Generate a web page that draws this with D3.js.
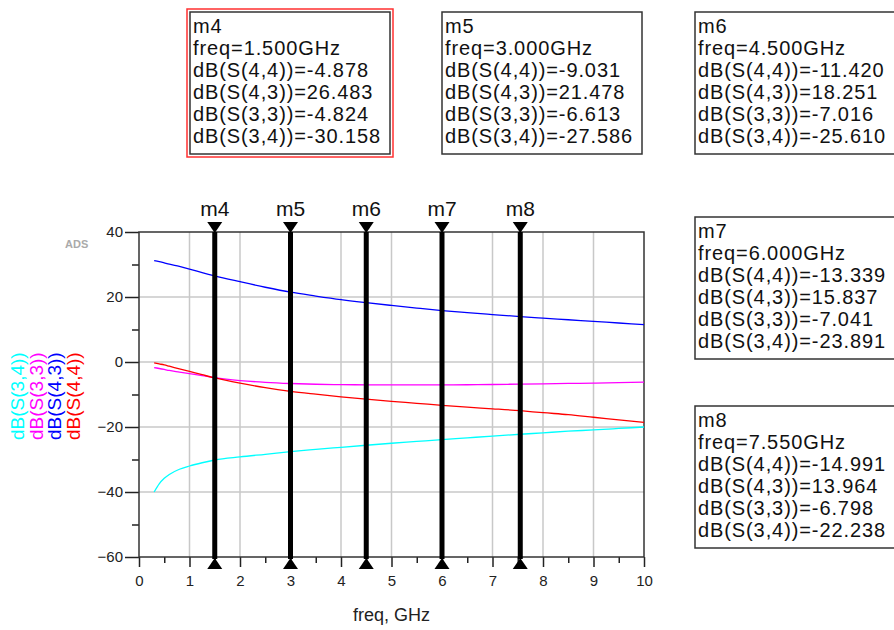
<!DOCTYPE html>
<html>
<head>
<meta charset="utf-8">
<script src="https://cdn.jsdelivr.net/npm/d3@7"></script>
<style>
body { margin: 0; background: #fff; }
svg { display: block; font-family: "Liberation Sans", Arial, sans-serif; }
</style>
</head>
<body>
<div id="chart"></div>
<script>
// sweep data (dB)
var freq = [0.3, 0.4, 0.5, 0.6, 0.8, 1, 1.25, 1.5, 2, 2.5, 3, 3.5, 4, 4.5, 5, 5.5, 6, 6.5, 7, 7.55, 8, 8.5, 9, 9.5, 10];
var s44 = [-0.3, -0.6, -0.9, -1.3, -2.1, -2.9, -3.9, -4.878, -6.5, -7.9, -9.031, -9.9, -10.7, -11.42, -12.1, -12.7, -13.339, -13.9, -14.4, -14.991, -15.6, -16.2, -17.0, -17.8, -18.6];
var s43 = [31.2, 30.9, 30.5, 30.1, 29.4, 28.6, 27.5, 26.483, 24.7, 23.0, 21.478, 20.3, 19.2, 18.251, 17.4, 16.6, 15.837, 15.2, 14.6, 13.964, 13.5, 13.0, 12.5, 12.0, 11.5];
var s33 = [-1.7, -2.0, -2.3, -2.6, -3.1, -3.6, -4.2, -4.824, -5.7, -6.25, -6.613, -6.85, -6.97, -7.016, -7.04, -7.05, -7.041, -7.0, -6.92, -6.798, -6.7, -6.6, -6.5, -6.35, -6.2];
var s34 = [-40, -37.5, -35.8, -34.6, -33.0, -32.0, -31.0, -30.158, -29.2, -28.4, -27.586, -26.9, -26.25, -25.61, -25.0, -24.45, -23.891, -23.35, -22.8, -22.238, -21.8, -21.3, -20.9, -20.45, -20.0];

// markers
var markerNames = ["m4", "m5", "m6", "m7", "m8"];
var markerFreq = [1.5, 3.0, 4.5, 6.0, 7.55];
var mk_s44 = [-4.878, -9.031, -11.420, -13.339, -14.991];
var mk_s43 = [26.483, 21.478, 18.251, 15.837, 13.964];
var mk_s33 = [-4.824, -6.613, -7.016, -7.041, -6.798];
var mk_s34 = [-30.158, -27.586, -25.610, -23.891, -22.238];

// axes
var xTicks = [0, 1, 2, 3, 4, 5, 6, 7, 8, 9, 10];
var xMinor = [0.5, 1.5, 2.5, 3.5, 4.5, 5.5, 6.5, 7.5, 8.5, 9.5];
var yTicks = [40, 20, 0, -20, -40, -60];
var yMinor = [30, 10, -10, -30, -50];

var seriesNames = ["dB(S(3,4))", "dB(S(3,3))", "dB(S(4,3))", "dB(S(4,4))"];
var seriesColors = ["#00ffff", "#ff00ff", "#0000ff", "#ff0000"];
var seriesData = [s34, s33, s43, s44];

var W = 894, H = 630;
var margin = {top: 232, left: 139};
var width = 505, height = 325;

var svg = d3.select("#chart").append("svg")
    .attr("width", W)
    .attr("height", H);

var g = svg.append("g")
    .attr("transform", "translate(" + margin.left + "," + margin.top + ")");

var x = d3.scaleLinear().domain([0, 10]).range([0, width]);
var y = d3.scaleLinear().domain([-60, 40]).range([height, 0]);

// grid
g.append("g").selectAll("line")
    .data(xTicks.slice(1, -1))
    .enter().append("line")
    .attr("x1", d => x(d)).attr("x2", d => x(d))
    .attr("y1", 0).attr("y2", height)
    .attr("stroke", "#c8c8c8").attr("stroke-width", 1.5);
g.append("g").selectAll("line")
    .data(yTicks.slice(1, -1))
    .enter().append("line")
    .attr("x1", 0).attr("x2", width)
    .attr("y1", d => y(d)).attr("y2", d => y(d))
    .attr("stroke", "#c8c8c8").attr("stroke-width", 1.5);

function styleAxis(sel, size) {
    sel.attr("font-family", null).attr("font-size", size);
    sel.select(".domain").remove();
    sel.selectAll("line").attr("stroke", "#222").attr("stroke-width", 1.5);
    sel.selectAll("text").attr("fill", "#222");
}

// x axis
var xAx = g.append("g").attr("transform", "translate(0," + height + ")")
    .call(d3.axisBottom(x).tickValues(xTicks).tickSize(10).tickPadding(8).tickFormat(d3.format("d")));
styleAxis(xAx, 15);
var xAxMinor = g.append("g").attr("transform", "translate(0," + height + ")")
    .call(d3.axisBottom(x).tickValues(xMinor).tickSize(6).tickFormat(""));
styleAxis(xAxMinor, 15);

// y axis
var yAx = g.append("g")
    .call(d3.axisLeft(y).tickValues(yTicks).tickSize(14).tickPadding(2).tickFormat(d3.format("d")));
styleAxis(yAx, 15);
var yAxMinor = g.append("g")
    .call(d3.axisLeft(y).tickValues(yMinor).tickSize(7).tickFormat(""));
styleAxis(yAxMinor, 15);

// frame
g.append("rect")
    .attr("x", 0).attr("y", 0)
    .attr("width", width).attr("height", height)
    .attr("fill", "none").attr("stroke", "#333").attr("stroke-width", 1.5);

// curves
var line = d3.line()
    .x((d, i) => x(freq[i]))
    .y(d => y(d))
    .curve(d3.curveMonotoneX);

g.append("g").selectAll("path")
    .data(seriesData)
    .enter().append("path")
    .attr("d", d => line(d))
    .attr("fill", "none")
    .attr("stroke", (d, i) => seriesColors[i])
    .attr("stroke-width", 1.3);

// marker lines
var mk = g.append("g").selectAll("g")
    .data(markerFreq)
    .enter().append("g")
    .attr("transform", d => "translate(" + x(d) + ",0)");
mk.append("line")
    .attr("x1", 0).attr("x2", 0)
    .attr("y1", 0).attr("y2", height + 2)
    .attr("stroke", "#000").attr("stroke-width", 5);
mk.append("path")
    .attr("d", "M-7.5,-10L7.5,-10L0,1Z")
    .attr("fill", "#000");
mk.append("path")
    .attr("d", "M0," + (height + 1) + "L7.5," + (height + 12) + "L-7.5," + (height + 12) + "Z")
    .attr("fill", "#000");
mk.append("text")
    .attr("x", 0).attr("y", -16)
    .attr("text-anchor", "middle")
    .attr("font-size", 21)
    .attr("fill", "#111")
    .text((d, i) => markerNames[i]);

// readout boxes
var boxPos = [[190, 12], [442, 12], [695, 12], [695, 217], [695, 406]];
var boxW = 200, boxH = 142;

// m4 is the selected marker: extra red outline
svg.append("rect")
    .attr("x", boxPos[0][0] - 3).attr("y", boxPos[0][1] - 3)
    .attr("width", boxW + 6).attr("height", boxH + 6)
    .attr("fill", "none").attr("stroke", "#ff3030").attr("stroke-width", 1.5);

markerNames.forEach(function(name, i) {
    var bx = boxPos[i][0], by = boxPos[i][1];
    var lines = [
        name,
        "freq=" + markerFreq[i].toFixed(3) + "GHz",
        "dB(S(4,4))=" + mk_s44[i].toFixed(3),
        "dB(S(4,3))=" + mk_s43[i].toFixed(3),
        "dB(S(3,3))=" + mk_s33[i].toFixed(3),
        "dB(S(3,4))=" + mk_s34[i].toFixed(3)
    ];
    var b = svg.append("g");
    b.append("rect")
        .attr("x", bx).attr("y", by)
        .attr("width", boxW).attr("height", boxH)
        .attr("fill", "#fff").attr("stroke", "#333").attr("stroke-width", 1.5);
    b.selectAll("text")
        .data(lines)
        .enter().append("text")
        .attr("x", bx + 3)
        .attr("y", (d, j) => by + 21 + j * 22)
        .attr("font-size", 20)
        .attr("letter-spacing", 0.9)
        .attr("fill", "#111")
        .text(d => d);
});

// y axis legend labels (rotated)
var legX = [24, 42.5, 61, 79.5];
svg.append("g").selectAll("text")
    .data(seriesNames)
    .enter().append("text")
    .attr("transform", (d, i) => "translate(" + legX[i] + ",440) rotate(-90)")
    .attr("font-size", 19)
    .attr("fill", (d, i) => seriesColors[i])
    .text(d => d);

// ADS watermark
svg.append("text")
    .attr("x", 65).attr("y", 248)
    .attr("font-size", 11).attr("font-weight", "bold")
    .attr("fill", "#aaa")
    .text("ADS");

// x label
svg.append("text")
    .attr("x", margin.left + width / 2).attr("y", 621)
    .attr("text-anchor", "middle")
    .attr("font-size", 18)
    .attr("fill", "#222")
    .text("freq, GHz");
</script>
</body>
</html>
